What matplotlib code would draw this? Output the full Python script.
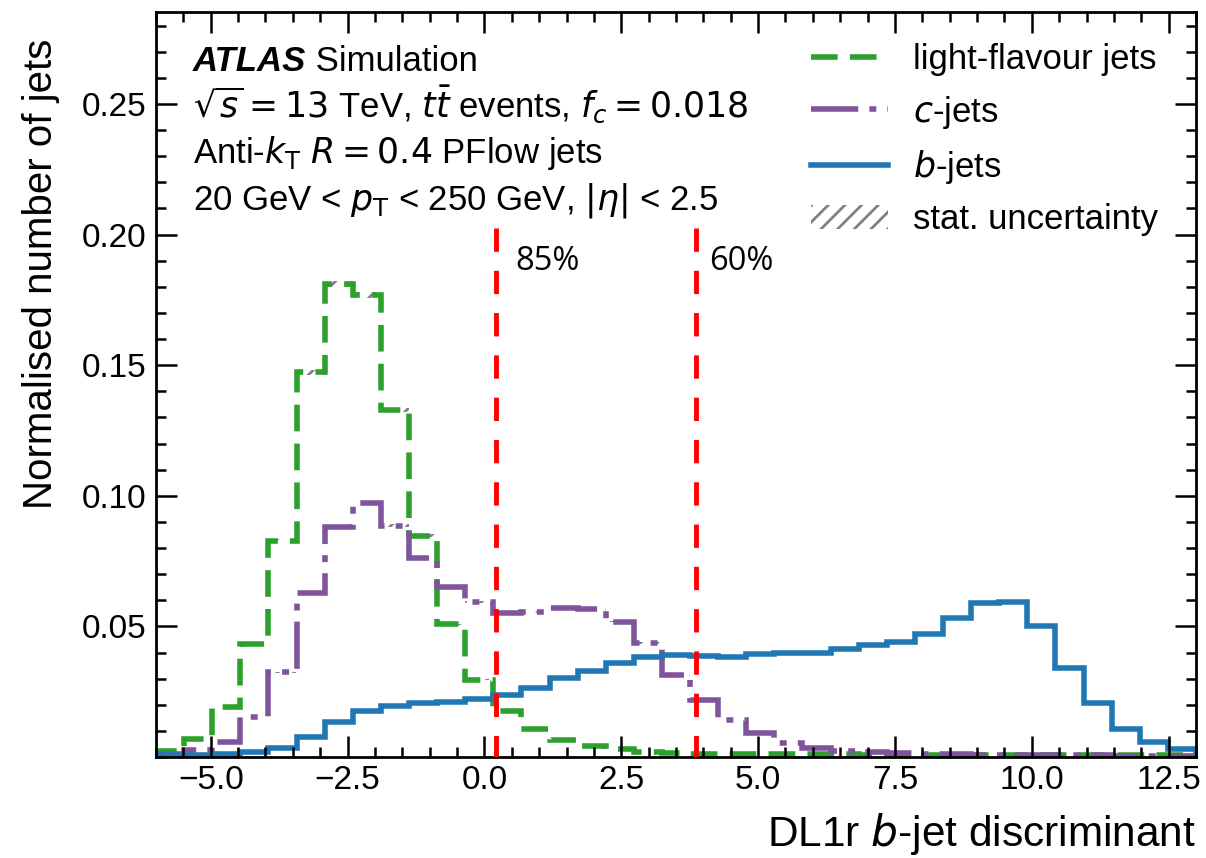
import numpy as np
import matplotlib
matplotlib.use("Agg")
import matplotlib.pyplot as plt
from matplotlib.ticker import MultipleLocator, FixedLocator
from matplotlib.patches import Patch
from matplotlib.lines import Line2D

# Binning of the DL1r discriminant
bin_lo, bin_hi, n_bins = -6.0, 13.0, 37

# Normalised jet yields per bin
light_jets = [0.0024, 0.0069, 0.0193, 0.0431, 0.0828, 0.1472, 0.1810, 0.1768,
              0.1327, 0.0847, 0.0508, 0.0295, 0.0177, 0.0106, 0.0065, 0.0042,
              0.0029, 0.0020, 0.0015, 0.0013, 0.0012, 0.0012, 0.0011, 0.0010,
              0.0010, 0.0009, 0.0009, 0.0009, 0.0008, 0.0008, 0.0008, 0.0007,
              0.0007, 0.0007, 0.0006, 0.0006, 0.0006]
c_jets = [0.0010, 0.0027, 0.0059, 0.0154, 0.0324, 0.0626, 0.0881, 0.0973,
          0.0885, 0.0762, 0.0649, 0.0594, 0.0550, 0.0554, 0.0571, 0.0565,
          0.0518, 0.0437, 0.0313, 0.0218, 0.0142, 0.0090, 0.0055, 0.0033,
          0.0022, 0.0020, 0.0014, 0.0012, 0.0010, 0.0009, 0.0008, 0.0007,
          0.0006, 0.0006, 0.0005, 0.0004, 0.0004]
b_jets = [0.0008, 0.0009, 0.0011, 0.0020, 0.0033, 0.0076, 0.0135, 0.0178,
          0.0197, 0.0205, 0.0212, 0.0222, 0.0237, 0.0263, 0.0301, 0.0330,
          0.0359, 0.0381, 0.0390, 0.0386, 0.0383, 0.0393, 0.0399, 0.0397,
          0.0412, 0.0427, 0.0441, 0.0471, 0.0531, 0.0590, 0.0593, 0.0503,
          0.0339, 0.0206, 0.0107, 0.0056, 0.0029]
stat_rel = 0.006

# Working-point cut values
wp_cuts = [0.21, 3.86]
wp_labels = ["85%", "60%"]

series_labels = ["light-flavour jets", r"$c$-jets", r"$b$-jets"]
series_colors = ["#2ca02c", "#7f549c", "#1f77b4"]

plt.rcParams.update({
    "font.family": ["Liberation Sans", "DejaVu Sans"],
    "mathtext.fontset": "dejavusans",
    "hatch.linewidth": 2.0,
})

fig = plt.figure(figsize=(12.06, 8.58), dpi=100)
ax = fig.add_axes([156 / 1206, 1 - 757 / 858, 1040 / 1206, 745 / 858])

edges = np.linspace(bin_lo, bin_hi, n_bins + 1)
styles = [
    dict(linestyle=(0, (4.8, 2.2))),
    dict(linestyle=(0, (8.5, 2.0, 1.25, 2.0))),
    dict(linestyle="-"),
]
for vals, col, sty in zip([light_jets, c_jets, b_jets], series_colors, styles):
    v = np.asarray(vals)
    ax.stairs(v * (1 + stat_rel), edges, baseline=v * (1 - stat_rel), fill=True,
              facecolor="none", edgecolor="grey", hatch="//", linewidth=0)
    ax.stairs(v, edges, color=col, linewidth=4, **sty)

for cut, lab, dx in zip(wp_cuts, wp_labels, [0.35, 0.25]):
    ax.plot([cut, cut], [0.2025, 0.0], color="red", linewidth=3.5,
            linestyle=(0, (4.8, 3.9)), zorder=5)
    ax.text(cut + dx, 0.1864, lab, fontsize=23.5, family="Open Sans",
            va="baseline", ha="left")

ax.set_xlim(bin_lo, bin_hi)
ax.set_ylim(0, 0.2852)
ax.xaxis.set_major_locator(MultipleLocator(2.5))
ax.xaxis.set_minor_locator(MultipleLocator(0.5))
ax.yaxis.set_major_locator(FixedLocator([0.05, 0.10, 0.15, 0.20, 0.25]))
ax.yaxis.set_minor_locator(MultipleLocator(0.01))
ax.tick_params(which="both", direction="in", top=True, right=True,
               labelsize=24, width=1.8)
ax.tick_params(which="major", length=15)
ax.tick_params(which="minor", length=7.5)
ax.tick_params(axis="x", which="major", pad=6)
ax.tick_params(axis="y", which="major", pad=7)
for sp in ax.spines.values():
    sp.set_linewidth(2)

ax.set_xlabel(r"DL1r $b$-jet discriminant", fontsize=30.5, loc="right")
ax.set_ylabel("Normalised number of jets", fontsize=29, loc="top")
ax.xaxis.set_label_coords(1.0, -0.072)
ax.yaxis.set_label_coords(-0.092, 0.964)

# Experiment label and selection description
tx, ty, dy = 0.0356, 0.921, 0.062
renderer = fig.canvas.get_renderer()
t_atlas = ax.text(tx, ty, "ATLAS", transform=ax.transAxes, fontsize=25,
                  fontweight="bold", fontstyle="italic", va="baseline", ha="left")
x_end = ax.transAxes.inverted().transform(
    (t_atlas.get_window_extent(renderer).x1, 0))[0]
ax.text(x_end, ty, " Simulation", transform=ax.transAxes, fontsize=25,
        va="baseline", ha="left")
lines = [r"$\sqrt{s}=13$ TeV, $t\bar{t}$ events, $f_{c}=0.018$",
         r"Anti-$k_{\mathrm{T}}$ $R=0.4$ PFlow jets",
         r"20 GeV < $p_{\mathrm{T}}$ < 250 GeV, $|\eta|$ < 2.5"]
for i, s in enumerate(lines, start=1):
    ax.text(tx, ty - i * dy, s, transform=ax.transAxes, fontsize=25,
            va="baseline", ha="left")

handles = [Line2D([], [], color=series_colors[0], lw=4, linestyle=(0, (4.8, 2.2))),
           Line2D([], [], color=series_colors[1], lw=4,
                  linestyle=(0, (8.5, 2.0, 1.25, 2.0))),
           Line2D([], [], color=series_colors[2], lw=4),
           Patch(facecolor="none", edgecolor="grey", hatch="//", linewidth=0)]
ax.legend(handles, series_labels + ["stat. uncertainty"], loc="upper right",
          bbox_to_anchor=(1 - 7 / 1040, 1.0), frameon=False, fontsize=25,
          handlelength=2.2, handletextpad=0.72, labelspacing=0.5)

fig.savefig("out.png", dpi=100)
